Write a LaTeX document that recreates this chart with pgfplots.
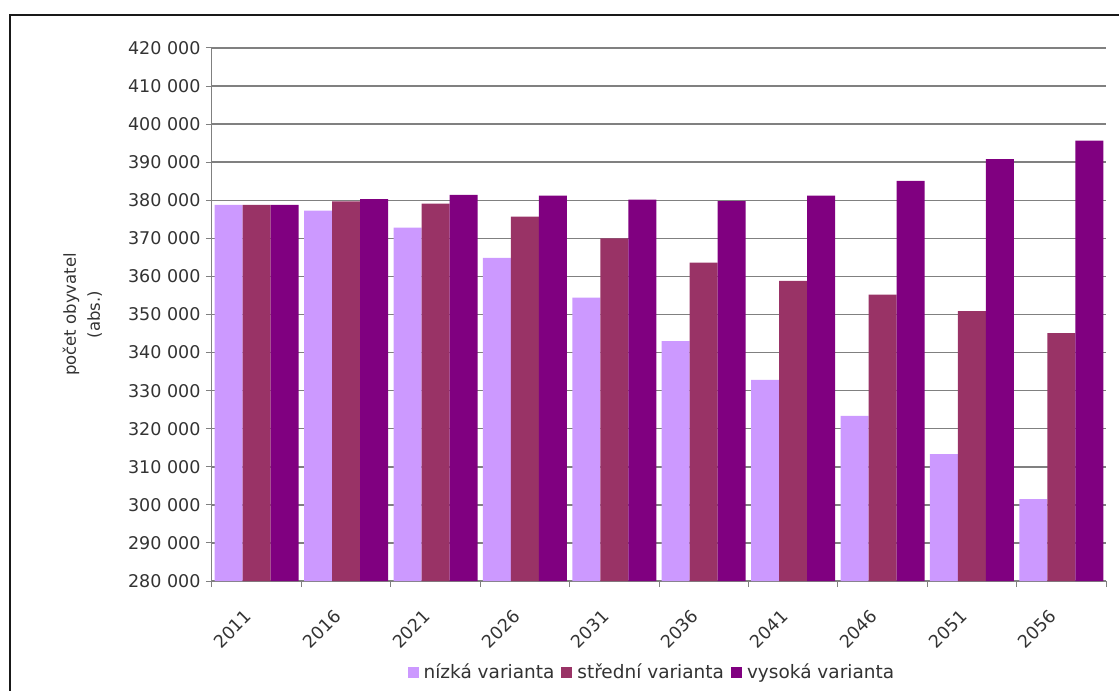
\documentclass[border=0pt]{standalone}
\usepackage{fontspec}
\setmainfont{DejaVu Sans}
\usepackage{pgfplots}
\pgfplotsset{compat=1.18}
\definecolor{low}{HTML}{CC99FF}
\definecolor{mid}{HTML}{993366}
\definecolor{high}{HTML}{800080}
\definecolor{gridc}{HTML}{808080}
\definecolor{txt}{HTML}{333333}
\begin{document}
\begin{tikzpicture}
\path[use as bounding box] (-212bp,-110bp) rectangle (907bp,581bp);
\draw[line width=1.6bp, black!90] (-202bp,-115bp) -- (-202bp,566bp) -- (912bp,566bp);
\begin{axis}[
  at={(0,0)}, anchor=south west,
  scale only axis, width=894bp, height=533bp,
  ybar=0pt, bar width=28bp,
  xmin=-0.5, xmax=9.5, ymin=280000, ymax=420000,
  axis lines*=left,
  axis line style={gridc, line width=1bp},
  ytick={280000,290000,300000,310000,320000,330000,340000,350000,360000,370000,380000,390000,400000,410000,420000},
  yticklabels={280 000,290 000,300 000,310 000,320 000,330 000,340 000,350 000,360 000,370 000,380 000,390 000,400 000,410 000,420 000},
  scaled y ticks=false,
  xtick={0,1,2,3,4,5,6,7,8,9},
  xticklabels={2011,2016,2021,2026,2031,2036,2041,2046,2051,2056},
  minor xtick={-0.5,0.5,1.5,2.5,3.5,4.5,5.5,6.5,7.5,8.5,9.5},
  major x tick style={opacity=0},
  minor x tick style={gridc, line width=1bp},
  y tick style={gridc, line width=1bp},
  tick align=outside,
  major tick length=6bp, minor tick length=6bp,
  ymajorgrids,
  major y grid style={gridc, line width=1.5bp},
  tick label style={font=\fontsize{17.5bp}{20bp}\selectfont, text=txt},
  yticklabel style={xshift=-2bp},
  xticklabel style={xshift=-6bp, yshift=-24bp, rotate=45, anchor=east},
  ylabel={počet obyvatel\\(abs.)},
  ylabel style={at={(axis description cs:-0.145,0.5)}, anchor=center, rotate=0, align=center, font=\fontsize{16.5bp}{24bp}\selectfont, text=txt},
  legend columns=-1,
  legend style={draw=none, at={(axis description cs:0.492,-0.171)}, anchor=center,
    font=\fontsize{18.5bp}{20bp}\selectfont, text=txt,
    /tikz/every odd column/.append style={column sep=3bp},
    /tikz/every even column/.append style={column sep=5bp}},
  every axis plot post/.append style={draw=none,
    legend image code/.code={\fill[##1] (0bp,-5.5bp) rectangle (11bp,5.5bp);}},
]
\addplot[fill=low] coordinates {(0,378800) (1,377300) (2,372800) (3,364900) (4,354400) (5,343000) (6,332800) (7,323400) (8,313300) (9,301500)};
\addplot[fill=mid] coordinates {(0,378800) (1,379700) (2,379100) (3,375700) (4,370000) (5,363600) (6,358800) (7,355200) (8,350900) (9,345100)};
\addplot[fill=high] coordinates {(0,378800) (1,380300) (2,381400) (3,381200) (4,380200) (5,379800) (6,381200) (7,385100) (8,390800) (9,395700)};
\legend{nízká varianta, střední varianta, vysoká varianta}
\end{axis}
\end{tikzpicture}
\end{document}
